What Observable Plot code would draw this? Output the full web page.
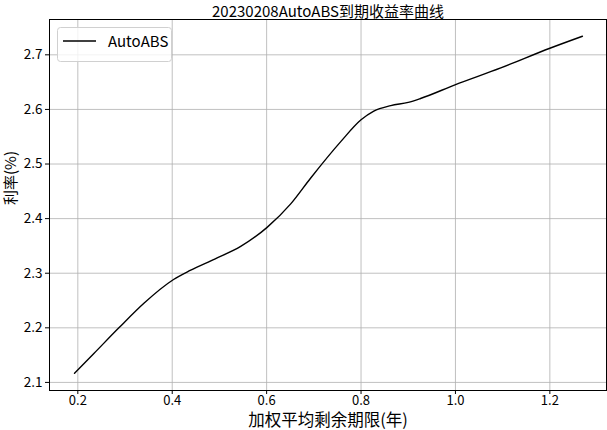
<!DOCTYPE html>
<html>
<head>
<meta charset="utf-8">
<script src="https://cdn.jsdelivr.net/npm/d3@7"></script>
<script src="https://cdn.jsdelivr.net/npm/@observablehq/plot@0.6"></script>
<style>
  html, body { margin: 0; padding: 0; background: white; }
  #chart svg { display: block; }
</style>
</head>
<body>
<div id="chart"></div>
<script>
// Data
const titleText = "20230208AutoABS到期收益率曲线";
const xLabel = "加权平均剩余期限(年)";
const yLabel = "利率(%)";
const seriesName = "AutoABS";

const maturity = [0.193, 0.234, 0.287, 0.340, 0.402, 0.438, 0.490, 0.545, 0.601, 0.651, 0.693, 0.757, 0.800, 0.827, 0.863, 0.900, 0.926, 0.999, 1.096, 1.200, 1.269];
const yieldPct = [2.117, 2.153, 2.200, 2.245, 2.288, 2.305, 2.326, 2.349, 2.384, 2.427, 2.474, 2.541, 2.581, 2.597, 2.607, 2.613, 2.620, 2.645, 2.676, 2.712, 2.734];

const xTicks = [0.2, 0.4, 0.6, 0.8, 1.0, 1.2];
const yTicks = [2.1, 2.2, 2.3, 2.4, 2.5, 2.6, 2.7];

const data = maturity.map((x, i) => ({x, y: yieldPct[i]}));
const font = "'Noto Sans CJK SC', 'Noto Sans', sans-serif";
const fmt = d3.format(".1f");

const chart = Plot.plot({
  width: 607,
  height: 430,
  marginLeft: 49,
  marginRight: 1,
  marginTop: 19,
  marginBottom: 40,
  style: {fontFamily: font, fontSize: "13px", background: "white", color: "black"},
  x: {domain: [0.14, 1.32], label: null},
  y: {domain: [2.0852, 2.7647], label: null},
  marks: [
    Plot.gridX(xTicks, {stroke: "#b0b0b0", strokeOpacity: 1, strokeWidth: 0.8}),
    Plot.gridY(yTicks, {stroke: "#b0b0b0", strokeOpacity: 1, strokeWidth: 0.8}),
    Plot.axisX(xTicks, {tickSize: 4, tickPadding: 1, tickFormat: fmt, fontSize: 13, label: null}),
    Plot.axisY(yTicks, {tickSize: 4, tickPadding: 3, tickFormat: fmt, fontSize: 13.5, label: null}),
    Plot.line(data, {x: "x", y: "y", curve: "monotone-x", stroke: "black", strokeWidth: 1.4}),
    Plot.frame({stroke: "black", strokeWidth: 1}),
    Plot.text([titleText], {frameAnchor: "top", dy: -3, lineAnchor: "bottom", fontSize: 15, fill: "black"}),
    Plot.text([xLabel], {frameAnchor: "bottom", dy: 30, lineAnchor: "middle", fontSize: 16.5, fill: "black"}),
    Plot.text([yLabel], {frameAnchor: "left", dx: -38, rotate: -90, fontSize: 15, fill: "black"})
  ]
});

// Legend (upper left, matplotlib style)
const svg = d3.select(chart);
const lg = svg.append("g").attr("font-family", font).attr("text-anchor", "start");
lg.append("rect").attr("x", 57.5).attr("y", 27.5).attr("width", 114).attr("height", 34)
  .attr("rx", 3).attr("fill", "white").attr("fill-opacity", 0.8)
  .attr("stroke", "#d0d0d0").attr("stroke-width", 1);
lg.append("line").attr("x1", 63).attr("x2", 96).attr("y1", 41).attr("y2", 41)
  .attr("stroke", "black").attr("stroke-width", 1.4);
lg.append("text").attr("x", 108).attr("y", 42).attr("dy", "0.35em")
  .attr("text-anchor", "start")
  .attr("font-size", 15).attr("fill", "black").text(seriesName);

document.getElementById("chart").appendChild(chart);
</script>
</body>
</html>
